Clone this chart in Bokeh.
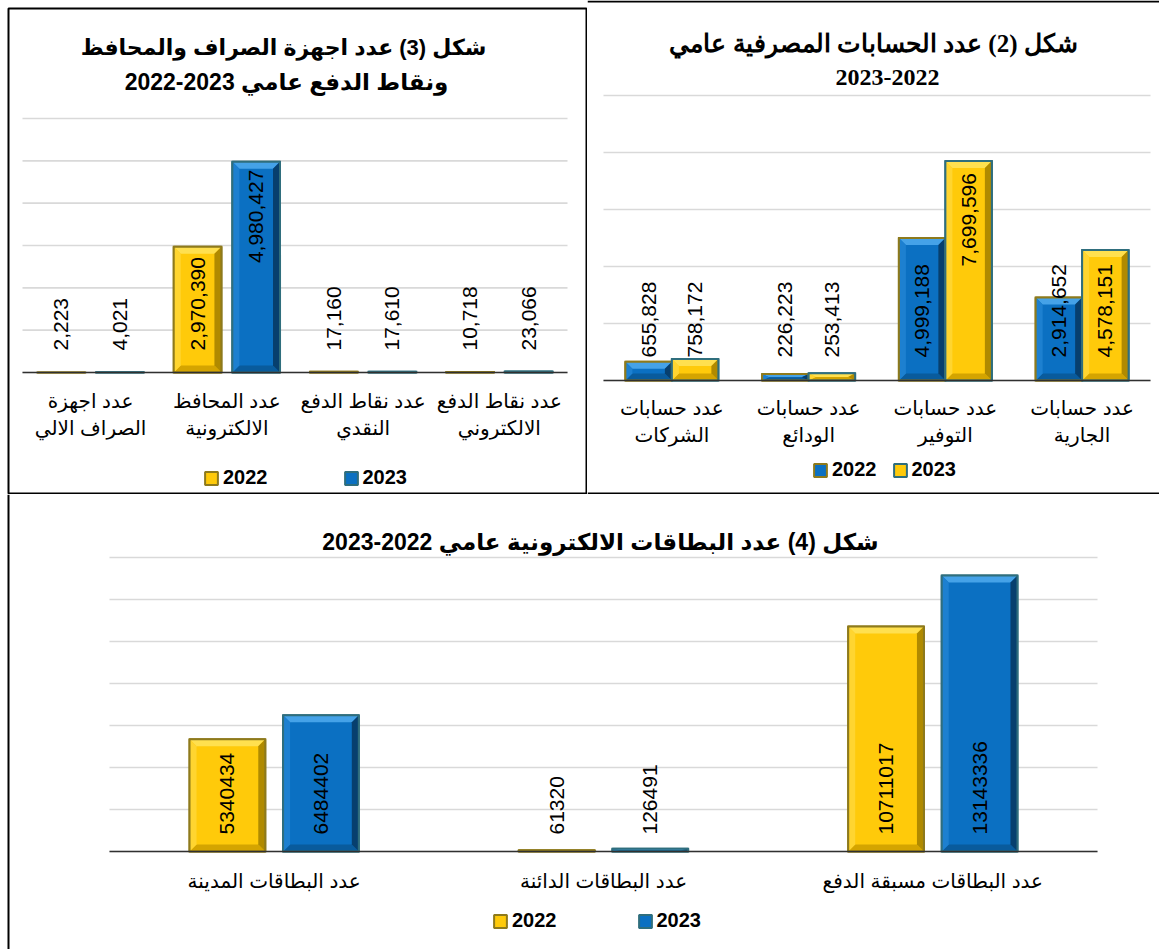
import math
from bokeh.plotting import figure
from bokeh.models import Range1d, FixedTicker, Legend, LegendItem, ColumnDataSource, BoxAnnotation
from bokeh.layouts import column, row
from bokeh.embed import file_html
from bokeh.resources import INLINE
from bokeh.core.properties import value

YEARS = ["2022", "2023"]

# ---------------- Figure (3) ----------------
fig3_title = ["شكل (3) عدد اجهزة الصراف والمحافظ", "ونقاط الدفع عامي 2023-2022"]
fig3_categories = ["عدد اجهزة\nالصراف الالي", "عدد المحافظ\nالالكترونية",
                   "عدد نقاط الدفع\nالنقدي", "عدد نقاط الدفع\nالالكتروني"]
fig3_2022 = [2223, 2970390, 17160, 10718]
fig3_2023 = [4021, 4980427, 17610, 23066]
fig3_grid = [0, 1000000, 2000000, 3000000, 4000000, 5000000, 6000000]

# ---------------- Figure (2) ----------------
fig2_title = ["شكل (2) عدد الحسابات المصرفية عامي", "2023-2022"]
fig2_categories = ["عدد حسابات\nالشركات", "عدد حسابات\nالودائع",
                   "عدد حسابات\nالتوفير", "عدد حسابات\nالجارية"]
fig2_2022 = [655828, 226223, 4999188, 2914652]
fig2_2023 = [758172, 253413, 7699596, 4578151]
fig2_grid = [0, 2000000, 4000000, 6000000, 8000000, 10000000]

# ---------------- Figure (4) ----------------
fig4_title = ["شكل (4) عدد البطاقات الالكترونية عامي 2022-2023"]
fig4_categories = ["عدد البطاقات المدينة", "عدد البطاقات الدائنة", "عدد البطاقات مسبقة الدفع"]
fig4_2022 = [5340434, 61320, 10711017]
fig4_2023 = [6484402, 126491, 13143336]
fig4_grid = [0, 2000000, 4000000, 6000000, 8000000, 10000000, 12000000, 14000000]

SANS = "'Liberation Sans', 'DejaVu Sans', sans-serif"
SERIF = "'Liberation Serif', 'DejaVu Serif', serif"

YELLOW = dict(body="#FFCA0A", top="#FFE04F", left="#FFD530", right="#B08A00", bottom="#D4A400")
BLUE = dict(body="#0B70C2", top="#45A2E8", left="#1D80D0", right="#073F6E", bottom="#095B9C")
OLIVE = "#8E7A1C"
TEAL = "#2F6E7D"
BEVEL = 7


class Panel:
    """A figure whose frame fills the whole canvas; positions in px are mapped to data."""

    def __init__(self, W, H, plot_l, plot_r, base_py, top_py, n, y_top):
        self.W, self.H, self.n = W, H, n
        self.upx = n / (plot_r - plot_l)
        self.ypp = y_top / (base_py - top_py)
        x0 = -0.5 - plot_l * self.upx
        x1 = x0 + W * self.upx
        y1 = base_py * self.ypp
        y0 = -(H - base_py) * self.ypp
        self.x0, self.y1 = x0, y1
        p = figure(width=W, height=H, output_backend="svg", toolbar_location=None, tools="",
                   x_range=Range1d(x0, x1), y_range=Range1d(y0, y1),
                   min_border=0, min_border_left=0, min_border_right=0,
                   min_border_top=0, min_border_bottom=0)
        p.background_fill_color = "white"
        p.border_fill_color = "white"
        p.outline_line_color = None
        p.xgrid.visible = False
        p.ygrid.visible = False
        p.yaxis.visible = False
        self.p = p

    def X(self, px):
        return self.x0 + px * self.upx

    def Y(self, py):
        return self.y1 - py * self.ypp


def build(panel, cats, series, schemes, outlines, grid, bar_w, offsets, start_px, end_px,
          fmt, titles, title_font, title_sizes, title_pos, label_standoff, legend_xy,
          legend_spacing):
    p = panel.p
    n = len(cats)
    dx0 = BEVEL * panel.upx
    dy0 = BEVEL * panel.ypp

    # horizontal gridlines over the plot area
    p.segment(x0=[-0.5] * len(grid), x1=[n - 0.5] * len(grid), y0=grid, y1=grid,
              line_color="#D9D9D9", line_width=1.6)

    # category axis drawn at the zero line
    xa = p.xaxis[0]
    xa.fixed_location = 0
    xa.bounds = (-0.5, n - 0.5)
    xa.ticker = FixedTicker(ticks=list(range(n)))
    xa.major_label_overrides = {i: c for i, c in enumerate(cats)}
    xa.major_tick_line_color = None
    xa.major_tick_out = 0
    xa.major_tick_in = 0
    xa.minor_tick_line_color = None
    xa.minor_tick_out = 0
    xa.minor_tick_in = 0
    xa.axis_line_color = "#303030"
    xa.axis_line_width = 1.6
    xa.major_label_text_font = SANS
    xa.major_label_text_font_size = "20px"
    xa.major_label_text_color = "black"
    xa.major_label_text_line_height = 1.25
    xa.major_label_standoff = label_standoff

    vmax = max(max(s) for s in series)
    legend_items = []
    for s, vals in enumerate(series):
        sch = schemes[s]
        oc = outlines[s]
        xc = [i + offsets[s] for i in range(n)]
        src = ColumnDataSource(dict(x=xc, top=vals))
        body = p.vbar(x="x", top="top", bottom=0, width=bar_w, source=src,
                      fill_color=sch["body"], line_color=oc, line_width=2)
        pxs, pys, pcs = [], [], []
        for x, t in zip(xc, vals):
            L, R, T, B = x - bar_w / 2, x + bar_w / 2, t, 0
            dy = min(dy0, t / 2)
            dx = min(dx0, bar_w / 2)
            pxs += [[L, R, R - dx, L + dx], [L, R, R - dx, L + dx],
                    [L, L, L + dx, L + dx], [R, R, R - dx, R - dx]]
            pys += [[T, T, T - dy, T - dy], [B, B, B + dy, B + dy],
                    [B, T, T - dy, B + dy], [B, T, T - dy, B + dy]]
            pcs += [sch["top"], sch["bottom"], sch["left"], sch["right"]]
        p.patches(pxs, pys, fill_color=pcs, line_color=None)
        p.vbar(x="x", top="top", bottom=0, width=bar_w, source=src,
               fill_color=None, line_color=oc, line_width=2, line_join="miter")
        legend_items.append(LegendItem(label=YEARS[s], renderers=[body]))

        # data labels
        lx, ly, lt = [], [], []
        ex, ey, et = [], [], []
        for x, t in zip(xc, vals):
            if end_px is not None and t == vmax:
                ex.append(x); ey.append(t - end_px * panel.ypp); et.append(fmt(t))
            else:
                lx.append(x); ly.append(start_px * panel.ypp); lt.append(fmt(t))
        if lx:
            p.text(x=lx, y=ly, text=lt, angle=math.pi / 2, text_align="left",
                   text_baseline="middle", text_font=value(SANS), text_font_size="21px",
                   text_color="black")
        if ex:
            p.text(x=ex, y=ey, text=et, angle=math.pi / 2, text_align="right",
                   text_baseline="middle", text_font=value(SANS), text_font_size="21px",
                   text_color="black")

    legend = Legend(items=legend_items, orientation="horizontal", location=legend_xy,
                    border_line_color=None, background_fill_alpha=0, padding=0, margin=0,
                    spacing=legend_spacing, glyph_width=16, glyph_height=16,
                    label_standoff=4, label_height=20, label_text_font=SANS,
                    label_text_font_size="20px", label_text_font_style="bold",
                    label_text_color="black")
    p.add_layout(legend)

    # chart titles
    for txt, sz, (cx, cy) in zip(titles, title_sizes, title_pos):
        p.text(x=[panel.X(cx)], y=[panel.Y(cy)], text=[txt], text_align="center",
               text_baseline="middle", text_font=value(title_font), text_font_size=sz,
               text_font_style="bold", text_color="black")
    return p


def comma(v):
    return f"{v:,}"


def plain(v):
    return f"{v}"


# ---- Figure 3: canvas at page (0, 0), 587 x 494
P3 = Panel(587, 494, 22, 567, 372, 118, 4, 6_000_000)
p3 = build(P3, fig3_categories, [fig3_2022, fig3_2023], [YELLOW, BLUE], [OLIVE, TEAL],
           fig3_grid, 0.35, [-0.215, 0.215], 22, 8, comma, fig3_title, SANS,
           ["22px", "23px"], [(283, 47), (286, 81)], 17, (203, 5), 75)
p3.add_layout(BoxAnnotation(left=P3.X(8), right=P3.X(586), top=P3.Y(8), bottom=P3.Y(493),
                            fill_color=None, line_color="black", line_width=2,
                            line_alpha=1, line_dash="solid"))

# ---- Figure 2: canvas at page (587, 0), 572 x 494
P2 = Panel(572, 494, 16, 563, 380, 95, 4, 10_000_000)
p2 = build(P2, fig2_categories, [fig2_2022, fig2_2023], [BLUE, YELLOW], [OLIVE, TEAL],
           fig2_grid, 0.34, [-0.17, 0.17], 23, 12, comma, fig2_title, SERIF,
           ["25px", "24px"], [(286, 43), (300, 77)], 16, (225, 13), 15)
p2.segment(x0=[P2.X(0), P2.X(0)], x1=[P2.X(572), P2.X(572)],
           y0=[P2.Y(1), P2.Y(493)], y1=[P2.Y(1), P2.Y(493)], line_color="black", line_width=2)

# ---- Figure 4: canvas at page (0, 494), 1159 x 455
P4 = Panel(1159, 455, 109, 1097, 357, 63, 3, 14_000_000)
p4 = build(P4, fig4_categories, [fig4_2022, fig4_2023], [YELLOW, BLUE], [OLIVE, TEAL],
           fig4_grid, 0.23, [-0.142, 0.142], 17, None, plain, fig4_title, SANS,
           ["23px"], [(600, 47)], 18, (492, 17), 80)
p4.segment(x0=[P4.X(8)], x1=[P4.X(8)], y0=[P4.Y(0)], y1=[P4.Y(455)],
           line_color="black", line_width=2)

layout = column(row(p3, p2, spacing=0), p4, spacing=0)

open("out.html", "w").write(file_html(layout, INLINE))
